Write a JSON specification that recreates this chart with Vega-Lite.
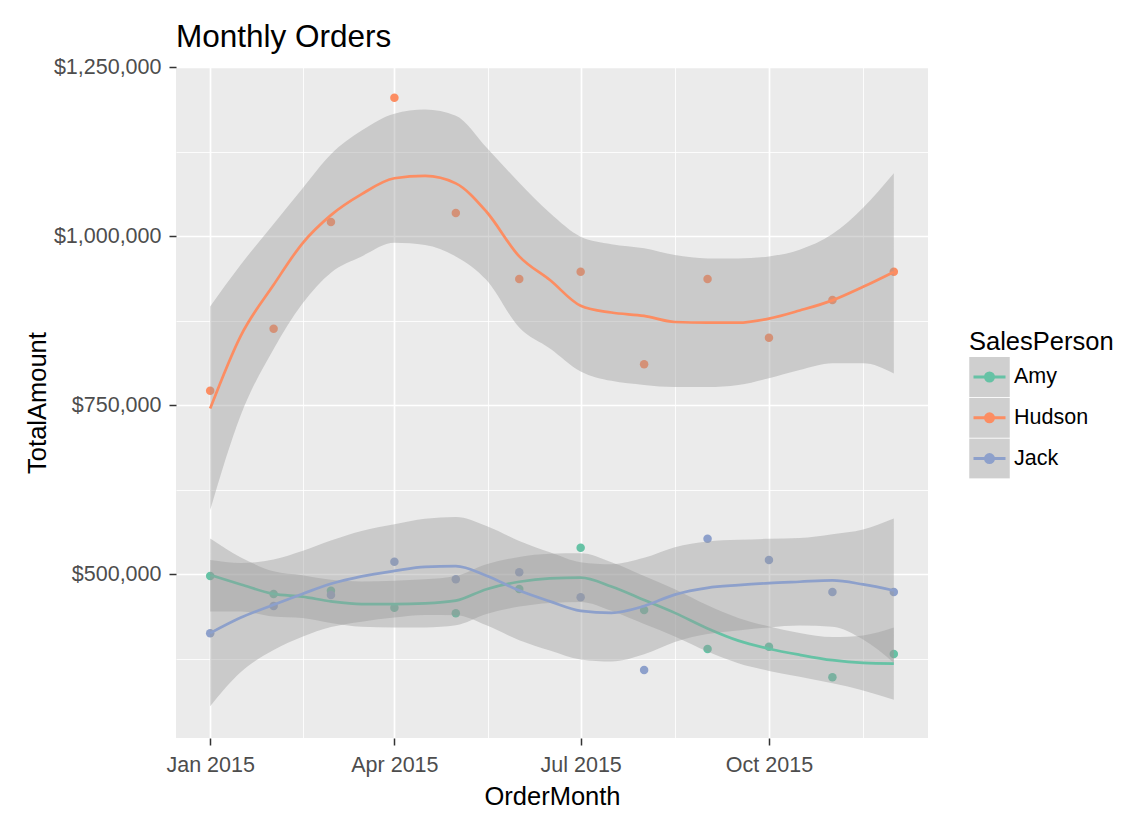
{
  "$schema": "https://vega.github.io/schema/vega-lite/v6.json",
  "width": 752,
  "height": 671,
  "autosize": "none",
  "padding": {"left": 176, "top": 67, "right": 219, "bottom": 79},
  "background": "#FFFFFF",
  "title": {"text": "Monthly Orders", "anchor": "start", "frame": "group", "fontSize": 31.5, "fontWeight": "normal", "color": "#000000", "font": "Liberation Sans", "offset": 2.5},
  "datasets": {
    "pts": [
      {"OrderMonth": "2015-01-01", "SalesPerson": "Amy", "TotalAmount": 497500},
      {"OrderMonth": "2015-02-01", "SalesPerson": "Amy", "TotalAmount": 470900},
      {"OrderMonth": "2015-03-01", "SalesPerson": "Amy", "TotalAmount": 475800},
      {"OrderMonth": "2015-04-01", "SalesPerson": "Amy", "TotalAmount": 450600},
      {"OrderMonth": "2015-05-01", "SalesPerson": "Amy", "TotalAmount": 442300},
      {"OrderMonth": "2015-06-01", "SalesPerson": "Amy", "TotalAmount": 478300},
      {"OrderMonth": "2015-07-01", "SalesPerson": "Amy", "TotalAmount": 539300},
      {"OrderMonth": "2015-08-01", "SalesPerson": "Amy", "TotalAmount": 447200},
      {"OrderMonth": "2015-09-01", "SalesPerson": "Amy", "TotalAmount": 389600},
      {"OrderMonth": "2015-10-01", "SalesPerson": "Amy", "TotalAmount": 393000},
      {"OrderMonth": "2015-11-01", "SalesPerson": "Amy", "TotalAmount": 347700},
      {"OrderMonth": "2015-12-01", "SalesPerson": "Amy", "TotalAmount": 382200},
      {"OrderMonth": "2015-01-01", "SalesPerson": "Hudson", "TotalAmount": 771400},
      {"OrderMonth": "2015-02-01", "SalesPerson": "Hudson", "TotalAmount": 863100},
      {"OrderMonth": "2015-03-01", "SalesPerson": "Hudson", "TotalAmount": 1020900},
      {"OrderMonth": "2015-04-01", "SalesPerson": "Hudson", "TotalAmount": 1204600},
      {"OrderMonth": "2015-05-01", "SalesPerson": "Hudson", "TotalAmount": 1034200},
      {"OrderMonth": "2015-06-01", "SalesPerson": "Hudson", "TotalAmount": 936600},
      {"OrderMonth": "2015-07-01", "SalesPerson": "Hudson", "TotalAmount": 947400},
      {"OrderMonth": "2015-08-01", "SalesPerson": "Hudson", "TotalAmount": 810500},
      {"OrderMonth": "2015-09-01", "SalesPerson": "Hudson", "TotalAmount": 936600},
      {"OrderMonth": "2015-10-01", "SalesPerson": "Hudson", "TotalAmount": 849800},
      {"OrderMonth": "2015-11-01", "SalesPerson": "Hudson", "TotalAmount": 905500},
      {"OrderMonth": "2015-12-01", "SalesPerson": "Hudson", "TotalAmount": 947400},
      {"OrderMonth": "2015-01-01", "SalesPerson": "Jack", "TotalAmount": 412800},
      {"OrderMonth": "2015-02-01", "SalesPerson": "Jack", "TotalAmount": 453100},
      {"OrderMonth": "2015-03-01", "SalesPerson": "Jack", "TotalAmount": 469400},
      {"OrderMonth": "2015-04-01", "SalesPerson": "Jack", "TotalAmount": 518600},
      {"OrderMonth": "2015-05-01", "SalesPerson": "Jack", "TotalAmount": 492600},
      {"OrderMonth": "2015-06-01", "SalesPerson": "Jack", "TotalAmount": 503000},
      {"OrderMonth": "2015-07-01", "SalesPerson": "Jack", "TotalAmount": 466000},
      {"OrderMonth": "2015-08-01", "SalesPerson": "Jack", "TotalAmount": 358500},
      {"OrderMonth": "2015-09-01", "SalesPerson": "Jack", "TotalAmount": 552600},
      {"OrderMonth": "2015-10-01", "SalesPerson": "Jack", "TotalAmount": 521100},
      {"OrderMonth": "2015-11-01", "SalesPerson": "Jack", "TotalAmount": 473800},
      {"OrderMonth": "2015-12-01", "SalesPerson": "Jack", "TotalAmount": 473800}
    ],
    "fit": [
      {"OrderMonth": "2015-01-01", "SalesPerson": "Amy", "fit": 499000, "lower": 445000, "upper": 553000},
      {"OrderMonth": "2015-01-16", "SalesPerson": "Amy", "fit": 485000, "lower": 445000, "upper": 525000},
      {"OrderMonth": "2015-02-01", "SalesPerson": "Amy", "fit": 471000, "lower": 437500, "upper": 504500},
      {"OrderMonth": "2015-02-15", "SalesPerson": "Amy", "fit": 467000, "lower": 435300, "upper": 498700},
      {"OrderMonth": "2015-03-01", "SalesPerson": "Amy", "fit": 460000, "lower": 428000, "upper": 492000},
      {"OrderMonth": "2015-03-16", "SalesPerson": "Amy", "fit": 456000, "lower": 422500, "upper": 489500},
      {"OrderMonth": "2015-04-01", "SalesPerson": "Amy", "fit": 456000, "lower": 421400, "upper": 490600},
      {"OrderMonth": "2015-04-16", "SalesPerson": "Amy", "fit": 457000, "lower": 421400, "upper": 492600},
      {"OrderMonth": "2015-05-01", "SalesPerson": "Amy", "fit": 461000, "lower": 424600, "upper": 497400},
      {"OrderMonth": "2015-05-16", "SalesPerson": "Amy", "fit": 478000, "lower": 441300, "upper": 514700},
      {"OrderMonth": "2015-06-01", "SalesPerson": "Amy", "fit": 489000, "lower": 452300, "upper": 525700},
      {"OrderMonth": "2015-06-16", "SalesPerson": "Amy", "fit": 494000, "lower": 457600, "upper": 530400},
      {"OrderMonth": "2015-07-01", "SalesPerson": "Amy", "fit": 495000, "lower": 459000, "upper": 531000},
      {"OrderMonth": "2015-07-16", "SalesPerson": "Amy", "fit": 482000, "lower": 446000, "upper": 518000},
      {"OrderMonth": "2015-08-01", "SalesPerson": "Amy", "fit": 462000, "lower": 426400, "upper": 497600},
      {"OrderMonth": "2015-08-16", "SalesPerson": "Amy", "fit": 443000, "lower": 408000, "upper": 478000},
      {"OrderMonth": "2015-09-01", "SalesPerson": "Amy", "fit": 420000, "lower": 385800, "upper": 454200},
      {"OrderMonth": "2015-09-16", "SalesPerson": "Amy", "fit": 402000, "lower": 368500, "upper": 435500},
      {"OrderMonth": "2015-10-01", "SalesPerson": "Amy", "fit": 390000, "lower": 357200, "upper": 422800},
      {"OrderMonth": "2015-10-16", "SalesPerson": "Amy", "fit": 381000, "lower": 348600, "upper": 413400},
      {"OrderMonth": "2015-11-01", "SalesPerson": "Amy", "fit": 373000, "lower": 338800, "upper": 407200},
      {"OrderMonth": "2015-11-16", "SalesPerson": "Amy", "fit": 369000, "lower": 328300, "upper": 409700},
      {"OrderMonth": "2015-12-01", "SalesPerson": "Amy", "fit": 368000, "lower": 314700, "upper": 421300},
      {"OrderMonth": "2015-01-01", "SalesPerson": "Hudson", "fit": 745000, "lower": 595000, "upper": 896000},
      {"OrderMonth": "2015-01-16", "SalesPerson": "Hudson", "fit": 853000, "lower": 736000, "upper": 958000},
      {"OrderMonth": "2015-02-01", "SalesPerson": "Hudson", "fit": 928000, "lower": 833000, "upper": 1018000},
      {"OrderMonth": "2015-02-15", "SalesPerson": "Hudson", "fit": 989000, "lower": 900000, "upper": 1070000},
      {"OrderMonth": "2015-03-01", "SalesPerson": "Hudson", "fit": 1031000, "lower": 946000, "upper": 1121000},
      {"OrderMonth": "2015-03-16", "SalesPerson": "Hudson", "fit": 1062000, "lower": 970000, "upper": 1156000},
      {"OrderMonth": "2015-04-01", "SalesPerson": "Hudson", "fit": 1085500, "lower": 990000, "upper": 1181000},
      {"OrderMonth": "2015-04-16", "SalesPerson": "Hudson", "fit": 1089000, "lower": 987000, "upper": 1187000},
      {"OrderMonth": "2015-05-01", "SalesPerson": "Hudson", "fit": 1078000, "lower": 970000, "upper": 1178000},
      {"OrderMonth": "2015-05-16", "SalesPerson": "Hudson", "fit": 1036000, "lower": 935000, "upper": 1131000},
      {"OrderMonth": "2015-06-01", "SalesPerson": "Hudson", "fit": 970000, "lower": 865000, "upper": 1079000},
      {"OrderMonth": "2015-06-16", "SalesPerson": "Hudson", "fit": 935000, "lower": 834000, "upper": 1034000},
      {"OrderMonth": "2015-07-01", "SalesPerson": "Hudson", "fit": 897000, "lower": 800000, "upper": 999000},
      {"OrderMonth": "2015-07-16", "SalesPerson": "Hudson", "fit": 887000, "lower": 786000, "upper": 988000},
      {"OrderMonth": "2015-08-01", "SalesPerson": "Hudson", "fit": 882000, "lower": 780000, "upper": 982000},
      {"OrderMonth": "2015-08-16", "SalesPerson": "Hudson", "fit": 873000, "lower": 777000, "upper": 972000},
      {"OrderMonth": "2015-09-01", "SalesPerson": "Hudson", "fit": 872000, "lower": 777000, "upper": 967000},
      {"OrderMonth": "2015-09-16", "SalesPerson": "Hudson", "fit": 872000, "lower": 780000, "upper": 967000},
      {"OrderMonth": "2015-10-01", "SalesPerson": "Hudson", "fit": 878000, "lower": 790000, "upper": 970000},
      {"OrderMonth": "2015-10-16", "SalesPerson": "Hudson", "fit": 890000, "lower": 802000, "upper": 980000},
      {"OrderMonth": "2015-11-01", "SalesPerson": "Hudson", "fit": 905000, "lower": 812000, "upper": 1003000},
      {"OrderMonth": "2015-11-16", "SalesPerson": "Hudson", "fit": 925000, "lower": 812000, "upper": 1042000},
      {"OrderMonth": "2015-12-01", "SalesPerson": "Hudson", "fit": 947000, "lower": 797000, "upper": 1093000},
      {"OrderMonth": "2015-01-01", "SalesPerson": "Jack", "fit": 413000, "lower": 305000, "upper": 521000},
      {"OrderMonth": "2015-01-16", "SalesPerson": "Jack", "fit": 436000, "lower": 355400, "upper": 516600},
      {"OrderMonth": "2015-02-01", "SalesPerson": "Jack", "fit": 455000, "lower": 388000, "upper": 522000},
      {"OrderMonth": "2015-02-15", "SalesPerson": "Jack", "fit": 471000, "lower": 407600, "upper": 534400},
      {"OrderMonth": "2015-03-01", "SalesPerson": "Jack", "fit": 486000, "lower": 422000, "upper": 550000},
      {"OrderMonth": "2015-03-16", "SalesPerson": "Jack", "fit": 497000, "lower": 430000, "upper": 564000},
      {"OrderMonth": "2015-04-01", "SalesPerson": "Jack", "fit": 505000, "lower": 436000, "upper": 574000},
      {"OrderMonth": "2015-04-16", "SalesPerson": "Jack", "fit": 511000, "lower": 439700, "upper": 582300},
      {"OrderMonth": "2015-05-01", "SalesPerson": "Jack", "fit": 512000, "lower": 439300, "upper": 584700},
      {"OrderMonth": "2015-05-16", "SalesPerson": "Jack", "fit": 498000, "lower": 424600, "upper": 571400},
      {"OrderMonth": "2015-06-01", "SalesPerson": "Jack", "fit": 476000, "lower": 402600, "upper": 549400},
      {"OrderMonth": "2015-06-16", "SalesPerson": "Jack", "fit": 460000, "lower": 387300, "upper": 532700},
      {"OrderMonth": "2015-07-01", "SalesPerson": "Jack", "fit": 446000, "lower": 374000, "upper": 518000},
      {"OrderMonth": "2015-07-16", "SalesPerson": "Jack", "fit": 443000, "lower": 371000, "upper": 515000},
      {"OrderMonth": "2015-08-01", "SalesPerson": "Jack", "fit": 453000, "lower": 381700, "upper": 524300},
      {"OrderMonth": "2015-08-16", "SalesPerson": "Jack", "fit": 470000, "lower": 400000, "upper": 540000},
      {"OrderMonth": "2015-09-01", "SalesPerson": "Jack", "fit": 480000, "lower": 411600, "upper": 548400},
      {"OrderMonth": "2015-09-16", "SalesPerson": "Jack", "fit": 484000, "lower": 417000, "upper": 551000},
      {"OrderMonth": "2015-10-01", "SalesPerson": "Jack", "fit": 487000, "lower": 421500, "upper": 552500},
      {"OrderMonth": "2015-10-16", "SalesPerson": "Jack", "fit": 489000, "lower": 424200, "upper": 553800},
      {"OrderMonth": "2015-11-01", "SalesPerson": "Jack", "fit": 491000, "lower": 422600, "upper": 559400},
      {"OrderMonth": "2015-11-16", "SalesPerson": "Jack", "fit": 485000, "lower": 403600, "upper": 566400},
      {"OrderMonth": "2015-12-01", "SalesPerson": "Jack", "fit": 476000, "lower": 369400, "upper": 582600}
    ]
  },
  "encoding": {
    "x": {
      "field": "OrderMonth",
      "type": "temporal",
      "title": "OrderMonth",
      "scale": {
        "type": "utc",
        "domain": [
          {"year": 2014, "month": 12, "date": 15, "hours": 7, "minutes": 12, "utc": true},
          {"year": 2015, "month": 12, "date": 17, "hours": 16, "minutes": 48, "utc": true}
        ]
      },
      "axis": {
        "values": [
          {"year": 2015, "month": 1, "date": 1, "utc": true},
          {"year": 2015, "month": 2, "date": 15, "hours": 12, "utc": true},
          {"year": 2015, "month": 4, "date": 1, "utc": true},
          {"year": 2015, "month": 5, "date": 16, "hours": 12, "utc": true},
          {"year": 2015, "month": 7, "date": 1, "utc": true},
          {"year": 2015, "month": 8, "date": 16, "utc": true},
          {"year": 2015, "month": 10, "date": 1, "utc": true},
          {"year": 2015, "month": 11, "date": 16, "utc": true}
        ],
        "labelExpr": "utcdate(datum.value) === 1 ? utcFormat(datum.value, '%b %Y') : ''",
        "tickOpacity": {"condition": {"test": "utcdate(datum.value) === 1", "value": 1}, "value": 0},
        "gridWidth": {"condition": {"test": "utcdate(datum.value) === 1", "value": 1.7}, "value": 0.85},
        "grid": true,
        "labelOverlap": false,
        "labelFlush": false,
        "labelPadding": 9,
        "titlePadding": 9
      }
    }
  },
  "layer": [
    {
      "data": {"name": "pts"},
      "mark": {"type": "point", "filled": true, "size": 72, "opacity": 1},
      "encoding": {
        "y": {
          "field": "TotalAmount",
          "type": "quantitative",
          "title": "TotalAmount",
          "scale": {"domain": [258000, 1250000], "nice": false, "zero": false},
          "axis": {
            "values": [375000, 500000, 625000, 750000, 875000, 1000000, 1125000, 1250000],
            "labelExpr": "datum.value % 250000 === 0 ? format(datum.value, '$,.0f') : ''",
            "tickOpacity": {"condition": {"test": "datum.value % 250000 === 0", "value": 1}, "value": 0},
            "gridWidth": {"condition": {"test": "datum.value % 250000 === 0", "value": 1.7}, "value": 0.85},
            "grid": true,
            "labelOverlap": false,
            "labelFlush": false,
            "labelPadding": 8,
            "titlePadding": 3
          }
        },
        "color": {
          "field": "SalesPerson",
          "type": "nominal",
          "scale": {"domain": ["Amy", "Hudson", "Jack"], "range": ["#66C2A5", "#FC8D62", "#8DA0CB"]},
          "legend": {
            "title": "SalesPerson",
            "orient": "none",
            "legendX": 793,
            "legendY": 263,
            "zindex": 2,
            "padding": 0,
            "titleFontSize": 25.5,
            "titleColor": "#000000",
            "titleFontWeight": "normal",
            "titleFont": "Liberation Sans",
            "titlePadding": 1.5,
            "labelFontSize": 21.5,
            "labelColor": "#000000",
            "labelFont": "Liberation Sans",
            "labelOffset": 3,
            "symbolType": "M-0.8,0L0.8,0M-0.2,0A0.2,0.2,0,1,1,0.2,0A0.2,0.2,0,1,1,-0.2,0Z",
            "symbolSize": 1600,
            "symbolStrokeWidth": 2.5,
            "symbolOffset": -1,
            "clipHeight": 40,
            "rowPadding": 0.8,
            "encoding": {
              "symbols": {
                "shape": {"value": "M-0.8,0L0.8,0M-0.2,0A0.2,0.2,0,1,1,0.2,0A0.2,0.2,0,1,1,-0.2,0Z"},
                "size": {"value": 1600},
                "stroke": {"value": {"expr": "scale('color', datum.value)"}},
                "strokeWidth": {"value": 3},
                "opacity": {"value": 1}
              }
            }
          }
        }
      }
    },
    {
      "data": {"name": "fit"},
      "transform": [{"filter": "datum.SalesPerson === 'Amy'"}],
      "mark": {"type": "area", "opacity": 0.4, "interpolate": "monotone"},
      "encoding": {
        "y": {"field": "lower", "type": "quantitative", "title": "TotalAmount", "scale": {"domain": [258000, 1250000], "nice": false, "zero": false}},
        "y2": {"field": "upper"},
        "fill": {
          "field": "SalesPerson",
          "type": "nominal",
          "scale": {"range": ["#999999", "#999999", "#999999"]},
          "legend": {
            "title": "SalesPerson",
            "orient": "none",
            "legendX": 793,
            "legendY": 263,
            "zindex": 1,
            "padding": 0,
            "titleFontSize": 25.5,
            "titleColor": "#FFFFFF",
            "titleOpacity": 0,
            "titleFontWeight": "normal",
            "titleFont": "Liberation Sans",
            "titlePadding": 1.5,
            "labelFontSize": 21.5,
            "labelColor": "#FFFFFF",
            "labelOpacity": 0,
            "labelFont": "Liberation Sans",
            "labelOffset": 3,
            "symbolType": "square",
            "symbolSize": 1640,
            "symbolStrokeWidth": 0,
            "symbolOffset": 0,
            "symbolOpacity": 0.47,
            "clipHeight": 40,
            "rowPadding": 0.8,
            "encoding": {
              "symbols": {
                "shape": {"value": "square"},
                "size": {"value": 1640},
                "opacity": {"value": 0.47},
                "strokeWidth": {"value": 0}
              }
            }
          }
        }
      }
    },
    {
      "data": {"name": "fit"},
      "transform": [{"filter": "datum.SalesPerson === 'Amy'"}],
      "mark": {"type": "line", "color": "#66C2A5", "strokeWidth": 2.7, "interpolate": "monotone"},
      "encoding": {
        "y": {"field": "fit", "type": "quantitative", "title": "TotalAmount", "scale": {"domain": [258000, 1250000], "nice": false, "zero": false}}
      }
    },
    {
      "data": {"name": "fit"},
      "transform": [{"filter": "datum.SalesPerson === 'Hudson'"}],
      "mark": {"type": "area", "opacity": 0.4, "interpolate": "monotone"},
      "encoding": {
        "y": {"field": "lower", "type": "quantitative", "title": "TotalAmount", "scale": {"domain": [258000, 1250000], "nice": false, "zero": false}},
        "y2": {"field": "upper"},
        "fill": {"field": "SalesPerson", "type": "nominal"}
      }
    },
    {
      "data": {"name": "fit"},
      "transform": [{"filter": "datum.SalesPerson === 'Hudson'"}],
      "mark": {"type": "line", "color": "#FC8D62", "strokeWidth": 2.7, "interpolate": "monotone"},
      "encoding": {
        "y": {"field": "fit", "type": "quantitative", "title": "TotalAmount", "scale": {"domain": [258000, 1250000], "nice": false, "zero": false}}
      }
    },
    {
      "data": {"name": "fit"},
      "transform": [{"filter": "datum.SalesPerson === 'Jack'"}],
      "mark": {"type": "area", "opacity": 0.4, "interpolate": "monotone"},
      "encoding": {
        "y": {"field": "lower", "type": "quantitative", "title": "TotalAmount", "scale": {"domain": [258000, 1250000], "nice": false, "zero": false}},
        "y2": {"field": "upper"},
        "fill": {"field": "SalesPerson", "type": "nominal"}
      }
    },
    {
      "data": {"name": "fit"},
      "transform": [{"filter": "datum.SalesPerson === 'Jack'"}],
      "mark": {"type": "line", "color": "#8DA0CB", "strokeWidth": 2.7, "interpolate": "monotone"},
      "encoding": {
        "y": {"field": "fit", "type": "quantitative", "title": "TotalAmount", "scale": {"domain": [258000, 1250000], "nice": false, "zero": false}}
      }
    }
  ],
  "config": {
    "view": {"fill": "#EBEBEB", "stroke": null},
    "font": "Liberation Sans",
    "axis": {
      "domain": false,
      "tickColor": "#333333",
      "tickWidth": 1.5,
      "tickSize": 7,
      "labelColor": "#4D4D4D",
      "labelFontSize": 21.5,
      "labelFont": "Liberation Sans",
      "titleFont": "Liberation Sans",
      "titleFontSize": 25.5,
      "titleColor": "#000000",
      "titleFontWeight": "normal",
      "gridColor": "#FFFFFF",
      "gridOpacity": 1
    }
  }
}
